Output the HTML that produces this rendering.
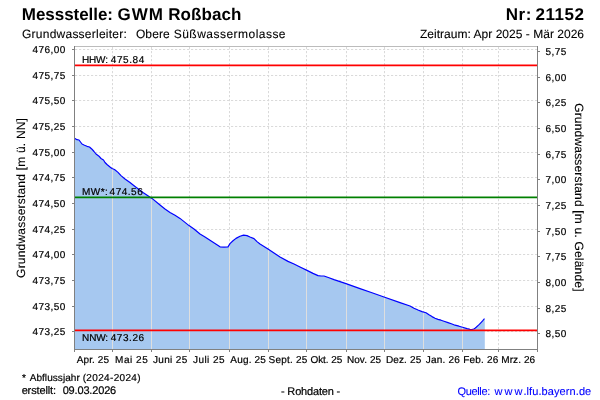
<!DOCTYPE html><html lang="de"><head><meta charset="utf-8"><title>Messstelle GWM Roßbach</title>
<style>html,body{margin:0;padding:0;background:#fff;overflow:hidden}svg{display:block}text{font-family:"Liberation Sans",Arial,sans-serif;fill:#000;white-space:pre;stroke:#000;stroke-width:0.2px;text-rendering:geometricPrecision}</style></head><body>
<svg width="600" height="400" viewBox="0 0 600 400">
<rect width="600" height="400" fill="#fff"/>
<text id="title" y="20" font-size="17" font-weight="bold" style="stroke-width:0"><tspan x="21.86" letter-spacing="-0.058">Messstelle: </tspan><tspan x="117.60" letter-spacing="0.952">GWM </tspan><tspan x="168.16" letter-spacing="0.095">Roßbach</tspan></text>
<text id="nr" y="20" font-size="17" font-weight="bold" style="stroke-width:0"><tspan x="505.76" letter-spacing="0.509">Nr: </tspan><tspan x="535.41" letter-spacing="0.549">21152</tspan></text>
<text id="sub1" y="37.6" font-size="12" style="stroke-width:0.1px"><tspan x="22.00" letter-spacing="0.241">Grundwasserleiter:   </tspan><tspan x="135.93" letter-spacing="0.112">Obere </tspan><tspan x="173.76" letter-spacing="0.472">Süßwassermolasse</tspan></text>
<text id="sub2" x="419.92" y="37.6" font-size="12" letter-spacing="0.026" style="stroke-width:0.1px">Zeitraum: Apr 2025 - Mär 2026</text>
<g stroke="#dadada" stroke-width="1" stroke-dasharray="2.2,1.8" fill="none"><line x1="75.0" x2="537.5" y1="49.5" y2="49.5"/><line x1="75.0" x2="537.5" y1="75.5" y2="75.5"/><line x1="75.0" x2="537.5" y1="100.5" y2="100.5"/><line x1="75.0" x2="537.5" y1="126.5" y2="126.5"/><line x1="75.0" x2="537.5" y1="152.5" y2="152.5"/><line x1="75.0" x2="537.5" y1="177.5" y2="177.5"/><line x1="75.0" x2="537.5" y1="203.5" y2="203.5"/><line x1="75.0" x2="537.5" y1="229.5" y2="229.5"/><line x1="75.0" x2="537.5" y1="254.5" y2="254.5"/><line x1="75.0" x2="537.5" y1="280.5" y2="280.5"/><line x1="75.0" x2="537.5" y1="306.5" y2="306.5"/><line x1="75.0" x2="537.5" y1="331.5" y2="331.5"/><line x1="112.5" x2="112.5" y1="47.0" y2="349.5"/><line x1="151.5" x2="151.5" y1="47.0" y2="349.5"/><line x1="189.5" x2="189.5" y1="47.0" y2="349.5"/><line x1="229.5" x2="229.5" y1="47.0" y2="349.5"/><line x1="268.5" x2="268.5" y1="47.0" y2="349.5"/><line x1="306.5" x2="306.5" y1="47.0" y2="349.5"/><line x1="346.5" x2="346.5" y1="47.0" y2="349.5"/><line x1="384.5" x2="384.5" y1="47.0" y2="349.5"/><line x1="423.5" x2="423.5" y1="47.0" y2="349.5"/><line x1="462.5" x2="462.5" y1="47.0" y2="349.5"/><line x1="498.5" x2="498.5" y1="47.0" y2="349.5"/></g>
<path d="M75,349.5 L75.0,138.5 L77.0,139.7 L79.0,140.0 L80.5,142.0 L82.0,144.0 L84.5,145.2 L87.0,146.3 L89.5,147.0 L92.0,149.2 L94.0,151.5 L96.0,154.0 L99.0,156.2 L101.0,158.5 L103.5,160.0 L105.0,162.5 L107.0,164.5 L110.0,167.0 L112.0,168.5 L114.5,169.5 L118.0,172.4 L121.0,175.6 L125.0,179.0 L130.0,182.6 L135.0,186.4 L143.0,192.4 L152.0,198.4 L160.0,205.0 L165.0,209.0 L170.0,212.4 L175.0,215.2 L180.0,218.4 L185.0,222.4 L189.0,225.6 L194.0,229.0 L200.0,234.0 L205.0,237.0 L210.0,240.2 L215.0,243.4 L220.0,246.8 L224.0,247.2 L228.0,246.9 L230.0,243.6 L233.0,240.8 L236.0,238.4 L240.0,236.2 L243.6,235.1 L247.0,235.6 L250.0,237.0 L254.0,238.6 L257.0,241.6 L260.0,244.0 L264.0,246.4 L268.0,249.0 L274.0,253.0 L280.0,257.0 L288.0,261.4 L294.0,264.0 L300.0,267.0 L307.0,270.4 L313.0,273.4 L318.0,275.6 L321.0,276.0 L324.0,276.0 L329.0,277.8 L334.0,279.6 L340.0,281.6 L346.0,283.6 L360.0,288.6 L372.0,292.8 L384.0,297.0 L400.0,302.6 L410.0,306.0 L414.0,308.2 L418.0,310.0 L422.0,311.6 L426.0,312.8 L429.0,314.8 L432.0,316.6 L435.0,318.2 L438.0,319.4 L441.0,320.2 L444.0,321.2 L448.0,322.6 L452.0,324.0 L455.0,325.2 L459.0,326.2 L462.6,327.3 L467.0,328.6 L470.0,329.3 L472.0,329.5 L473.8,329.0 L475.0,328.2 L476.2,327.2 L478.5,325.1 L480.3,323.3 L482.6,320.9 L484.1,319.0 L484.8,319.0 L484.8,349.5 Z" fill="#a6c8f0"/>
<clipPath id="c"><path d="M75,349.5 L75.0,138.5 L77.0,139.7 L79.0,140.0 L80.5,142.0 L82.0,144.0 L84.5,145.2 L87.0,146.3 L89.5,147.0 L92.0,149.2 L94.0,151.5 L96.0,154.0 L99.0,156.2 L101.0,158.5 L103.5,160.0 L105.0,162.5 L107.0,164.5 L110.0,167.0 L112.0,168.5 L114.5,169.5 L118.0,172.4 L121.0,175.6 L125.0,179.0 L130.0,182.6 L135.0,186.4 L143.0,192.4 L152.0,198.4 L160.0,205.0 L165.0,209.0 L170.0,212.4 L175.0,215.2 L180.0,218.4 L185.0,222.4 L189.0,225.6 L194.0,229.0 L200.0,234.0 L205.0,237.0 L210.0,240.2 L215.0,243.4 L220.0,246.8 L224.0,247.2 L228.0,246.9 L230.0,243.6 L233.0,240.8 L236.0,238.4 L240.0,236.2 L243.6,235.1 L247.0,235.6 L250.0,237.0 L254.0,238.6 L257.0,241.6 L260.0,244.0 L264.0,246.4 L268.0,249.0 L274.0,253.0 L280.0,257.0 L288.0,261.4 L294.0,264.0 L300.0,267.0 L307.0,270.4 L313.0,273.4 L318.0,275.6 L321.0,276.0 L324.0,276.0 L329.0,277.8 L334.0,279.6 L340.0,281.6 L346.0,283.6 L360.0,288.6 L372.0,292.8 L384.0,297.0 L400.0,302.6 L410.0,306.0 L414.0,308.2 L418.0,310.0 L422.0,311.6 L426.0,312.8 L429.0,314.8 L432.0,316.6 L435.0,318.2 L438.0,319.4 L441.0,320.2 L444.0,321.2 L448.0,322.6 L452.0,324.0 L455.0,325.2 L459.0,326.2 L462.6,327.3 L467.0,328.6 L470.0,329.3 L472.0,329.5 L473.8,329.0 L475.0,328.2 L476.2,327.2 L478.5,325.1 L480.3,323.3 L482.6,320.9 L484.1,319.0 L484.8,319.0 L484.8,349.5 Z"/></clipPath>
<g clip-path="url(#c)" stroke="#dedede" stroke-width="1" fill="none"><line x1="112.5" x2="112.5" y1="46.5" y2="349.5"/><line x1="151.5" x2="151.5" y1="46.5" y2="349.5"/><line x1="189.5" x2="189.5" y1="46.5" y2="349.5"/><line x1="229.5" x2="229.5" y1="46.5" y2="349.5"/><line x1="268.5" x2="268.5" y1="46.5" y2="349.5"/><line x1="306.5" x2="306.5" y1="46.5" y2="349.5"/><line x1="346.5" x2="346.5" y1="46.5" y2="349.5"/><line x1="384.5" x2="384.5" y1="46.5" y2="349.5"/><line x1="423.5" x2="423.5" y1="46.5" y2="349.5"/><line x1="462.5" x2="462.5" y1="46.5" y2="349.5"/><line x1="498.5" x2="498.5" y1="46.5" y2="349.5"/></g>
<polyline points="75.0,138.5 77.0,139.7 79.0,140.0 80.5,142.0 82.0,144.0 84.5,145.2 87.0,146.3 89.5,147.0 92.0,149.2 94.0,151.5 96.0,154.0 99.0,156.2 101.0,158.5 103.5,160.0 105.0,162.5 107.0,164.5 110.0,167.0 112.0,168.5 114.5,169.5 118.0,172.4 121.0,175.6 125.0,179.0 130.0,182.6 135.0,186.4 143.0,192.4 152.0,198.4 160.0,205.0 165.0,209.0 170.0,212.4 175.0,215.2 180.0,218.4 185.0,222.4 189.0,225.6 194.0,229.0 200.0,234.0 205.0,237.0 210.0,240.2 215.0,243.4 220.0,246.8 224.0,247.2 228.0,246.9 230.0,243.6 233.0,240.8 236.0,238.4 240.0,236.2 243.6,235.1 247.0,235.6 250.0,237.0 254.0,238.6 257.0,241.6 260.0,244.0 264.0,246.4 268.0,249.0 274.0,253.0 280.0,257.0 288.0,261.4 294.0,264.0 300.0,267.0 307.0,270.4 313.0,273.4 318.0,275.6 321.0,276.0 324.0,276.0 329.0,277.8 334.0,279.6 340.0,281.6 346.0,283.6 360.0,288.6 372.0,292.8 384.0,297.0 400.0,302.6 410.0,306.0 414.0,308.2 418.0,310.0 422.0,311.6 426.0,312.8 429.0,314.8 432.0,316.6 435.0,318.2 438.0,319.4 441.0,320.2 444.0,321.2 448.0,322.6 452.0,324.0 455.0,325.2 459.0,326.2 462.6,327.3 467.0,328.6 470.0,329.3 472.0,329.5 473.8,329.0 475.0,328.2 476.2,327.2 478.5,325.1 480.3,323.3 482.6,320.9 484.1,319.0" fill="none" stroke="#0000ff" stroke-width="1.2" stroke-linejoin="round" stroke-linecap="round"/>
<line x1="75" x2="537.0" y1="65.35" y2="65.35" stroke="#ff0000" stroke-width="1.7"/>
<line x1="75" x2="537.0" y1="197.45" y2="197.45" stroke="#008000" stroke-width="1.7"/>
<line x1="75" x2="537.0" y1="330.45" y2="330.45" stroke="#ff0000" stroke-width="1.7"/>
<text id="hhw" y="63" font-size="10" ><tspan x="82.08" letter-spacing="-0.209">HHW: </tspan><tspan x="110.77" letter-spacing="0.587">475.84</tspan></text>
<text id="mw" y="194.8" font-size="10" ><tspan x="82.08" letter-spacing="0.398">MW*: </tspan><tspan x="109.57" letter-spacing="0.517">474.56</tspan></text>
<text id="nnw" y="340.8" font-size="10" ><tspan x="82.08" letter-spacing="-0.142">NNW: </tspan><tspan x="110.77" letter-spacing="0.537">473.26</tspan></text>
<g stroke="#808080" stroke-width="1" fill="none"><line x1="74.0" x2="538.0" y1="46.5" y2="46.5" stroke="#bcbcbc"/><line x1="74.5" x2="74.5" y1="46.0" y2="350.0"/><line x1="537.5" x2="537.5" y1="46.0" y2="350.0"/><line x1="74.5" x2="537.5" y1="349.5" y2="349.5"/><line x1="72.0" x2="74.5" y1="49.5" y2="49.5"/><line x1="537.5" x2="540.0" y1="51.5" y2="51.5"/><line x1="72.0" x2="74.5" y1="75.5" y2="75.5"/><line x1="537.5" x2="540.0" y1="77.5" y2="77.5"/><line x1="72.0" x2="74.5" y1="100.5" y2="100.5"/><line x1="537.5" x2="540.0" y1="102.5" y2="102.5"/><line x1="72.0" x2="74.5" y1="126.5" y2="126.5"/><line x1="537.5" x2="540.0" y1="128.5" y2="128.5"/><line x1="72.0" x2="74.5" y1="152.5" y2="152.5"/><line x1="537.5" x2="540.0" y1="154.5" y2="154.5"/><line x1="72.0" x2="74.5" y1="177.5" y2="177.5"/><line x1="537.5" x2="540.0" y1="179.5" y2="179.5"/><line x1="72.0" x2="74.5" y1="203.5" y2="203.5"/><line x1="537.5" x2="540.0" y1="205.5" y2="205.5"/><line x1="72.0" x2="74.5" y1="229.5" y2="229.5"/><line x1="537.5" x2="540.0" y1="231.5" y2="231.5"/><line x1="72.0" x2="74.5" y1="254.5" y2="254.5"/><line x1="537.5" x2="540.0" y1="256.5" y2="256.5"/><line x1="72.0" x2="74.5" y1="280.5" y2="280.5"/><line x1="537.5" x2="540.0" y1="282.5" y2="282.5"/><line x1="72.0" x2="74.5" y1="306.5" y2="306.5"/><line x1="537.5" x2="540.0" y1="308.5" y2="308.5"/><line x1="72.0" x2="74.5" y1="331.5" y2="331.5"/><line x1="537.5" x2="540.0" y1="333.5" y2="333.5"/><line x1="74.5" x2="74.5" y1="349.5" y2="352.0"/><line x1="112.5" x2="112.5" y1="349.5" y2="352.0"/><line x1="151.5" x2="151.5" y1="349.5" y2="352.0"/><line x1="189.5" x2="189.5" y1="349.5" y2="352.0"/><line x1="229.5" x2="229.5" y1="349.5" y2="352.0"/><line x1="268.5" x2="268.5" y1="349.5" y2="352.0"/><line x1="306.5" x2="306.5" y1="349.5" y2="352.0"/><line x1="346.5" x2="346.5" y1="349.5" y2="352.0"/><line x1="384.5" x2="384.5" y1="349.5" y2="352.0"/><line x1="423.5" x2="423.5" y1="349.5" y2="352.0"/><line x1="462.5" x2="462.5" y1="349.5" y2="352.0"/><line x1="498.5" x2="498.5" y1="349.5" y2="352.0"/><line x1="537.5" x2="537.5" y1="349.5" y2="352.0"/></g>
<text id="l0" x="32.60" y="53.0" font-size="10" letter-spacing="0.420" >476,00</text><text id="r0" x="545.60" y="54.8" font-size="10" letter-spacing="0.420" >5,75</text><text id="l1" x="32.60" y="79.0" font-size="10" letter-spacing="0.420" >475,75</text><text id="r1" x="545.60" y="80.8" font-size="10" letter-spacing="0.420" >6,00</text><text id="l2" x="32.60" y="104.0" font-size="10" letter-spacing="0.420" >475,50</text><text id="r2" x="545.60" y="105.8" font-size="10" letter-spacing="0.420" >6,25</text><text id="l3" x="32.60" y="130.0" font-size="10" letter-spacing="0.420" >475,25</text><text id="r3" x="545.60" y="131.8" font-size="10" letter-spacing="0.420" >6,50</text><text id="l4" x="32.60" y="156.0" font-size="10" letter-spacing="0.420" >475,00</text><text id="r4" x="545.60" y="157.8" font-size="10" letter-spacing="0.420" >6,75</text><text id="l5" x="32.60" y="181.0" font-size="10" letter-spacing="0.420" >474,75</text><text id="r5" x="545.60" y="182.8" font-size="10" letter-spacing="0.420" >7,00</text><text id="l6" x="32.60" y="207.0" font-size="10" letter-spacing="0.420" >474,50</text><text id="r6" x="545.60" y="208.8" font-size="10" letter-spacing="0.420" >7,25</text><text id="l7" x="32.60" y="233.0" font-size="10" letter-spacing="0.420" >474,25</text><text id="r7" x="545.60" y="234.8" font-size="10" letter-spacing="0.420" >7,50</text><text id="l8" x="32.60" y="258.0" font-size="10" letter-spacing="0.420" >474,00</text><text id="r8" x="545.60" y="259.8" font-size="10" letter-spacing="0.420" >7,75</text><text id="l9" x="32.60" y="284.0" font-size="10" letter-spacing="0.420" >473,75</text><text id="r9" x="545.60" y="285.8" font-size="10" letter-spacing="0.420" >8,00</text><text id="l10" x="32.60" y="310.0" font-size="10" letter-spacing="0.420" >473,50</text><text id="r10" x="545.60" y="311.8" font-size="10" letter-spacing="0.420" >8,25</text><text id="l11" x="32.60" y="335.0" font-size="10" letter-spacing="0.420" >473,25</text><text id="r11" x="545.60" y="336.8" font-size="10" letter-spacing="0.420" >8,50</text><text id="x0" x="76.68" y="363" font-size="10" letter-spacing="0.116" >Apr. 25</text><text id="x1" x="115.08" y="363" font-size="10" letter-spacing="0.525" >Mai 25</text><text id="x2" x="153.04" y="363" font-size="10" letter-spacing="0.322" >Juni 25</text><text id="x3" x="193.04" y="363" font-size="10" letter-spacing="0.428" >Juli 25</text><text id="x4" x="230.28" y="363" font-size="10" letter-spacing="0.194" >Aug. 25</text><text id="x5" x="268.55" y="363" font-size="10" letter-spacing="0.218" >Sept. 25</text><text id="x6" x="310.43" y="363" font-size="10" letter-spacing="-0.074" >Okt. 25</text><text id="x7" x="346.88" y="363" font-size="10" letter-spacing="0.096" >Nov. 25</text><text id="x8" x="385.88" y="363" font-size="10" letter-spacing="0.146" >Dez. 25</text><text id="x9" x="425.74" y="363" font-size="10" letter-spacing="0.232" >Jan. 26</text><text id="x10" x="463.18" y="363" font-size="10" letter-spacing="0.208" >Feb. 26</text><text id="x11" x="501.28" y="363" font-size="10" letter-spacing="0.087" >Mrz. 26</text>
<g transform="translate(24.8,277.3) rotate(-90)"><text id="yl" x="-0.60" y="0" font-size="12" letter-spacing="0.205" style="stroke-width:0.1px">Grundwasserstand [m ü. NN]</text></g>
<g transform="translate(575.1,103.75) rotate(90)"><text id="yr" x="-0.60" y="0" font-size="12" letter-spacing="0.185" style="stroke-width:0.1px">Grundwasserstand [m u. Gelände]</text></g>
<text id="f1" y="380.6" font-size="10" ><tspan x="21.94" letter-spacing="0.000">* </tspan><tspan x="29.68" letter-spacing="0.062">Abflussjahr </tspan><tspan x="82.63" letter-spacing="0.351">(2024-2024)</tspan></text>
<text id="f2" y="394.4" font-size="11" ><tspan x="21.63" letter-spacing="-0.123">erstellt:  </tspan><tspan x="62.67" letter-spacing="-0.166">09.03.2026</tspan></text>
<text id="roh" x="281.01" y="394.7" font-size="11" letter-spacing="-0.179" >- Rohdaten -</text>
<text id="src" y="394.5" font-size="11" style="fill:#0000ff;stroke:#0000ff;stroke-width:0.1px"><tspan x="457.48" letter-spacing="-0.346">Quelle: </tspan><tspan x="494.52" letter-spacing="2.063">www</tspan><tspan x="523.40" letter-spacing="0.091">.lfu.bayern.de</tspan></text>
</svg></body></html>
